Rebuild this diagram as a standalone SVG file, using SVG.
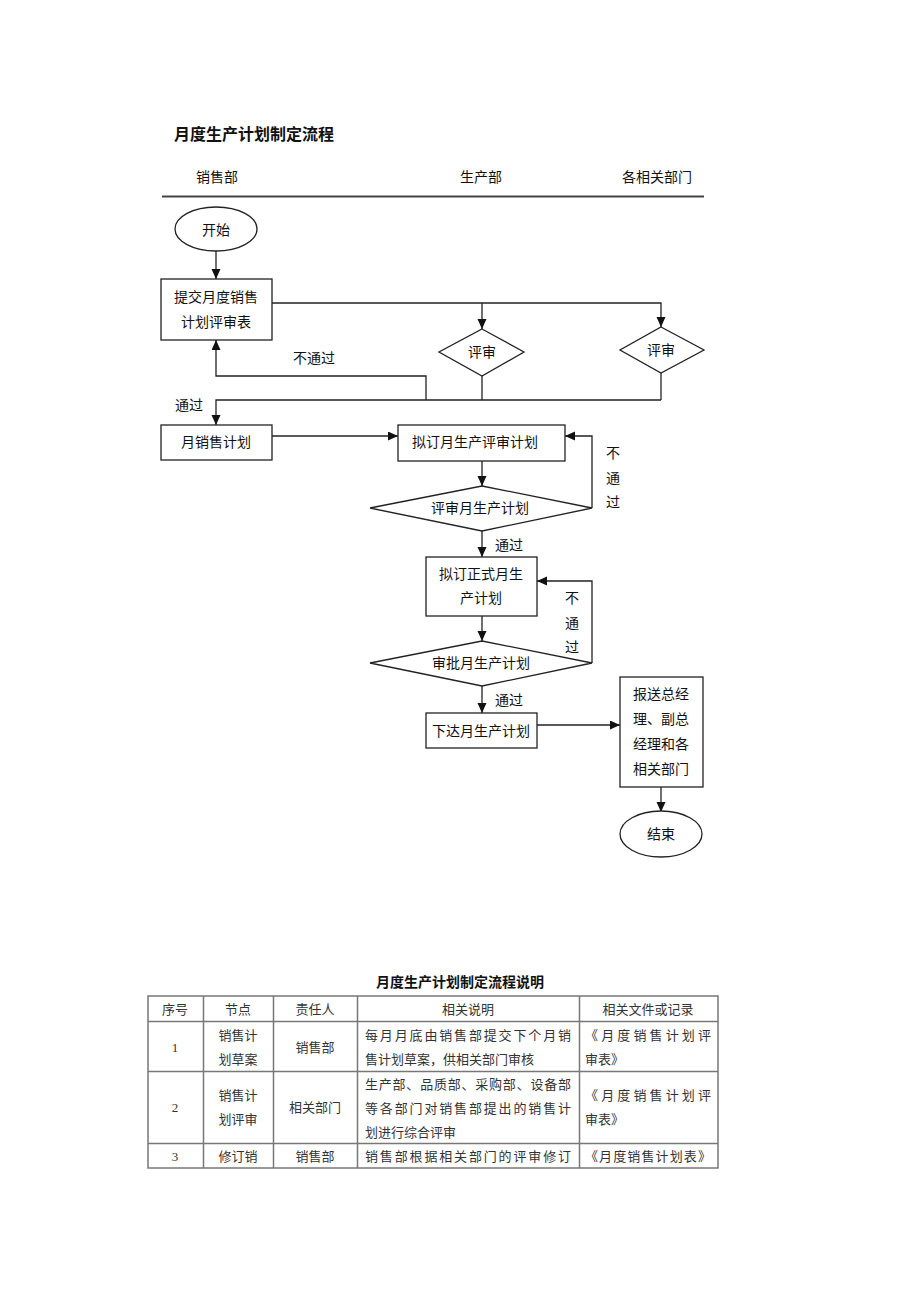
<svg xmlns="http://www.w3.org/2000/svg" width="920" height="1302" viewBox="0 0 920 1302">
<defs>
<marker id="ah" markerUnits="userSpaceOnUse" markerWidth="11" markerHeight="10" refX="10" refY="4.5" orient="auto">
<path d="M0,0 L10,4.5 L0,9 z" fill="#111"/>
</marker>
<style>
.t{font-family:"Noto Sans CJK SC","Liberation Sans",sans-serif;font-size:14px;fill:#111;dominant-baseline:central;text-anchor:middle}
.b{font-weight:bold}
.sh{fill:#fff;stroke:#222;stroke-width:1.3}
.c{fill:none;stroke:#222;stroke-width:1.3}
.ca{fill:none;stroke:#222;stroke-width:1.3;marker-end:url(#ah)}
.tb{font-family:"Liberation Serif","Noto Sans CJK SC",serif;font-size:13px;fill:#333;dominant-baseline:central;text-anchor:middle}
.tbl{fill:none;stroke:#777;stroke-width:1.5}
.tl{text-anchor:start}
</style>
</defs>
<rect width="920" height="1302" fill="#fff"/>

<g id="header">
<text class="t b tl" x="174" y="133" style="font-size:16px">月度生产计划制定流程</text>
<text class="t" x="217" y="176">销售部</text>
<text class="t" x="481" y="176">生产部</text>
<text class="t" x="657" y="176">各相关部门</text>
<line x1="162" y1="196.5" x2="704" y2="196.5" stroke="#444" stroke-width="2"/>
</g>

<g id="connectors">
<path class="ca" d="M216,251 V279"/>
<path class="ca" d="M272,303 H661 V327"/>
<path class="ca" d="M482,303 V329"/>
<path class="c" d="M482,376 V400"/>
<path class="c" d="M661,373 V400"/>
<path class="ca" d="M661,400 H216 V425"/>
<path class="ca" d="M426,400 V376 H216 V340"/>
<path class="ca" d="M272,436 H398"/>
<path class="ca" d="M482,461 V486"/>
<path class="ca" d="M592,508 V436 H565"/>
<path class="ca" d="M482,531 V557"/>
<path class="ca" d="M592,663 V581 H537"/>
<path class="ca" d="M482,616 V641"/>
<path class="ca" d="M482,686 V713"/>
<path class="ca" d="M537,725 H620"/>
<path class="ca" d="M661,787 V812"/>
<text class="t" x="314" y="357">不通过</text>
<text class="t" x="189" y="404">通过</text>
<text class="t" x="613" y="452">不</text>
<text class="t" x="613" y="477">通</text>
<text class="t" x="613" y="501">过</text>
<text class="t" x="509" y="544">通过</text>
<text class="t" x="572" y="597">不</text>
<text class="t" x="572" y="622">通</text>
<text class="t" x="572" y="646">过</text>
<text class="t" x="509" y="699">通过</text>
</g>

<g id="start">
<ellipse class="sh" cx="216" cy="229" rx="41" ry="22"/>
<text class="t" x="216" y="229">开始</text>
</g>
<g id="submit">
<rect class="sh" x="161" y="279" width="111" height="61"/>
<text class="t" x="216" y="296">提交月度销售</text>
<text class="t" x="216" y="321">计划评审表</text>
</g>
<g id="review1">
<path class="sh" d="M482,329 L524,352 L482,376 L439,352 z"/>
<text class="t" x="482" y="351">评审</text>
</g>
<g id="review2">
<path class="sh" d="M661,327 L704,350 L661,373 L620,350 z"/>
<text class="t" x="661" y="349">评审</text>
</g>
<g id="salesplan">
<rect class="sh" x="161" y="425" width="111" height="35"/>
<text class="t" x="216" y="441">月销售计划</text>
</g>
<g id="draftreview">
<rect class="sh" x="398" y="425" width="167" height="36"/>
<text class="t" x="475" y="441">拟订月生产评审计划</text>
</g>
<g id="reviewplan">
<path class="sh" d="M482,486 L592,508 L482,531 L370,508 z"/>
<text class="t" x="480" y="507">评审月生产计划</text>
</g>
<g id="formalplan">
<rect class="sh" x="426" y="557" width="111" height="59"/>
<text class="t" x="481" y="573">拟订正式月生</text>
<text class="t" x="481" y="597">产计划</text>
</g>
<g id="approve">
<path class="sh" d="M482,641 L592,663 L482,686 L370,663 z"/>
<text class="t" x="481" y="662">审批月生产计划</text>
</g>
<g id="issue">
<rect class="sh" x="426" y="713" width="111" height="35"/>
<text class="t" x="481" y="730">下达月生产计划</text>
</g>
<g id="report">
<rect class="sh" x="620" y="677" width="83" height="110"/>
<text class="t" x="661" y="693">报送总经</text>
<text class="t" x="661" y="718">理、副总</text>
<text class="t" x="661" y="743">经理和各</text>
<text class="t" x="661" y="768">相关部门</text>
</g>
<g id="end">
<ellipse class="sh" cx="661" cy="834" rx="41" ry="23"/>
<text class="t" x="661" y="833">结束</text>
</g>

<g id="table">
<text class="t b" x="460" y="981">月度生产计划制定流程说明</text>
<rect class="tbl" x="148" y="996" width="570" height="172"/>
<path class="tbl" d="M148,1021.5 H718 M148,1071.5 H718 M148,1143.5 H718 M203.5,996 V1168 M273.5,996 V1168 M357.5,996 V1168 M579.5,996 V1168"/>
<text class="tb" x="175" y="1009">序号</text>
<text class="tb" x="238" y="1009">节点</text>
<text class="tb" x="315" y="1009">责任人</text>
<text class="tb" x="468" y="1009">相关说明</text>
<text class="tb" x="648" y="1009">相关文件或记录</text>

<text class="tb" x="175" y="1047">1</text>
<text class="tb" x="238" y="1035">销售计</text>
<text class="tb" x="238" y="1059">划草案</text>
<text class="tb" x="315" y="1047">销售部</text>
<text class="tb tl" x="365" y="1035" textLength="206" lengthAdjust="spacing">每月月底由销售部提交下个月销</text>
<text class="tb tl" x="365" y="1059">售计划草案，供相关部门审核</text>
<text class="tb tl" x="585" y="1035" textLength="126" lengthAdjust="spacing">《月度销售计划评</text>
<text class="tb tl" x="585" y="1059">审表》</text>

<text class="tb" x="175" y="1107">2</text>
<text class="tb" x="238" y="1095">销售计</text>
<text class="tb" x="238" y="1119">划评审</text>
<text class="tb" x="315" y="1107">相关部门</text>
<text class="tb tl" x="365" y="1084" textLength="206" lengthAdjust="spacing">生产部、品质部、采购部、设备部</text>
<text class="tb tl" x="365" y="1108" textLength="206" lengthAdjust="spacing">等各部门对销售部提出的销售计</text>
<text class="tb tl" x="365" y="1132">划进行综合评审</text>
<text class="tb tl" x="585" y="1095" textLength="126" lengthAdjust="spacing">《月度销售计划评</text>
<text class="tb tl" x="585" y="1119">审表》</text>

<text class="tb" x="175" y="1156">3</text>
<text class="tb" x="238" y="1156">修订销</text>
<text class="tb" x="315" y="1156">销售部</text>
<text class="tb tl" x="365" y="1156" textLength="206" lengthAdjust="spacing">销售部根据相关部门的评审修订</text>
<text class="tb tl" x="585" y="1156" textLength="126" lengthAdjust="spacing">《月度销售计划表》</text>
</g>
</svg>
